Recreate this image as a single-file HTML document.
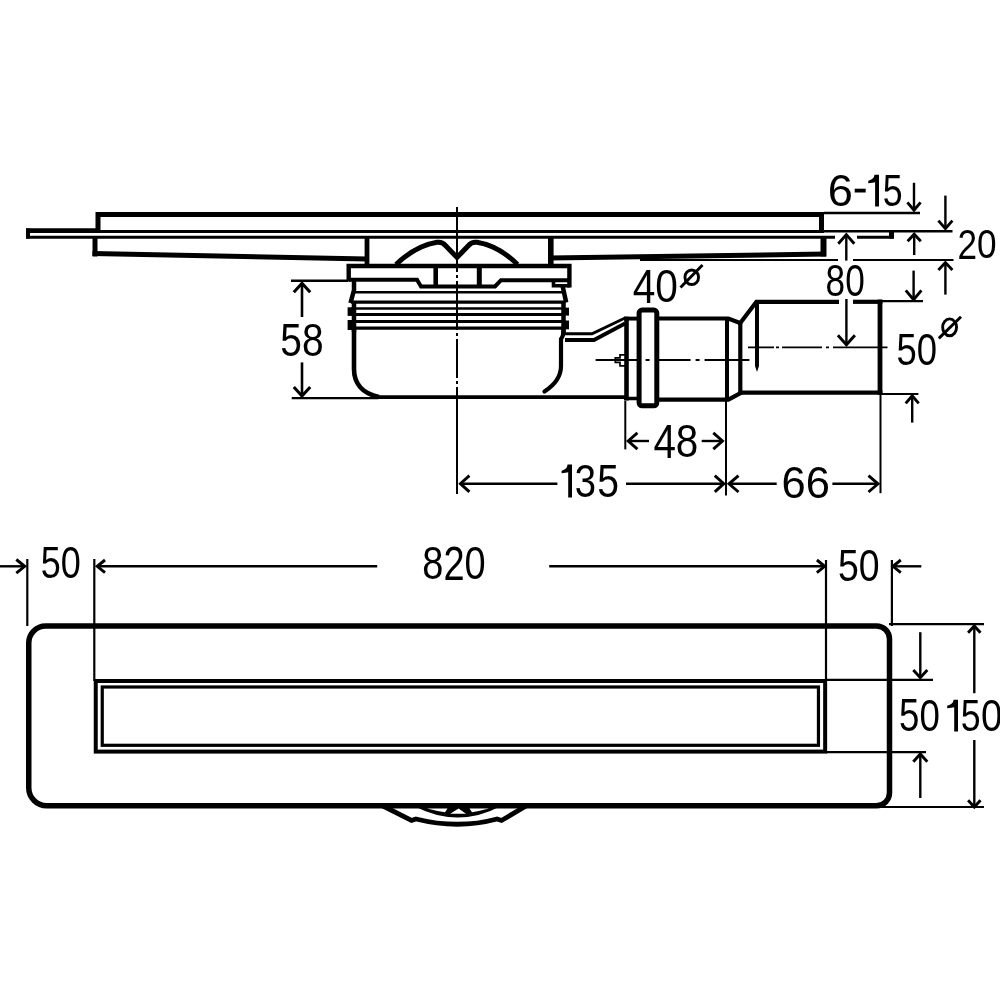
<!DOCTYPE html>
<html><head><meta charset="utf-8"><style>html,body{margin:0;padding:0;background:#fff;width:1000px;height:1000px;overflow:hidden}svg{display:block;will-change:transform}</style></head>
<body><svg width="1000" height="1000" viewBox="0 0 1000 1000">
<rect width="1000" height="1000" fill="#fff"/>
<g fill="none" stroke="#000">
<polyline points="98,231.5 98,214.5 821.5,214.5 821.5,231.5" stroke-width="5" stroke-linejoin="miter"/>
<line x1="96" y1="231.5" x2="824" y2="231.5" stroke-width="3"/>
<line x1="824" y1="231.2" x2="952.5" y2="231.2" stroke-width="2.5"/>
<line x1="26" y1="230.6" x2="98" y2="230.6" stroke-width="4.6"/>
<line x1="26" y1="237.2" x2="835" y2="237.2" stroke-width="3"/>
<line x1="857" y1="237.2" x2="894" y2="237.2" stroke-width="3"/>
<line x1="28" y1="228.5" x2="28" y2="238.5" stroke-width="4"/>
<line x1="891.5" y1="231" x2="891.5" y2="238.5" stroke-width="5"/>
<line x1="95" y1="236" x2="95" y2="256.5" stroke-width="5"/>
<polyline points="92.5,253.5 367,259" stroke-width="5" stroke-linejoin="miter"/>
<line x1="367" y1="237" x2="367" y2="266" stroke-width="4.8"/>
<line x1="550.8" y1="237" x2="550.8" y2="266" stroke-width="5.6"/>
<polyline points="550,258 826,254" stroke-width="5" stroke-linejoin="miter"/>
<line x1="823.5" y1="237" x2="823.5" y2="256.5" stroke-width="6"/>
<line x1="640" y1="260" x2="838" y2="260" stroke-width="2.2"/>
<line x1="853" y1="260" x2="953.5" y2="260" stroke-width="2.2"/>
<line x1="882" y1="301.2" x2="923" y2="301.2" stroke-width="2.2"/>
<line x1="824" y1="213" x2="920" y2="213" stroke-width="2.4"/>
<path d="M396,264.5 C409,252 424,244.5 437,242.3 Q442,241.5 445.5,245.5 L457,257.5 L468.5,245.5 Q472,241.5 477,242.3 C490,244.5 505,252 517.5,264.5" stroke-width="5" />
<polyline points="348.7,281.6 348.7,266 569.4,266 569.4,287.5" stroke-width="4.4" stroke-linejoin="miter"/>
<polyline points="348.7,279.8 417,279.8 421,286.5 495,286.5 501,280.2 569,280.2" stroke-width="4" stroke-linejoin="miter"/>
<line x1="435.7" y1="266" x2="435.7" y2="286" stroke-width="4.6"/>
<line x1="479.3" y1="266" x2="479.3" y2="286" stroke-width="5"/>
<polyline points="553.5,280 553.5,285.8 570,285.8" stroke-width="3.6" stroke-linejoin="miter"/>
<polyline points="354,281 354,290 350.5,303" stroke-width="4.5" stroke-linejoin="miter"/>
<line x1="354" y1="302" x2="354" y2="332" stroke-width="4.5"/>
<rect x="347.6" y="307.3" width="5" height="8.6" fill="#000" stroke="none"/>
<rect x="347.6" y="320" width="5" height="10" fill="#000" stroke="none"/>
<path d="M354,330 L354,369 C354,383 362,393.5 379,397" stroke-width="4.6" />
<polyline points="562.6,286 566.2,302.5" stroke-width="4.5" stroke-linejoin="miter"/>
<line x1="563.5" y1="301" x2="563.5" y2="335" stroke-width="4.5"/>
<rect x="564" y="307.6" width="5" height="8" fill="#000" stroke="none"/>
<rect x="564" y="320.5" width="5" height="8.8" fill="#000" stroke="none"/>
<path d="M563.5,330 Q563.5,336 561,339 L561,366 C561,376 556,384 544.5,391.5" stroke-width="4.2" stroke-linecap="round"/>
<line x1="355" y1="292.2" x2="563" y2="292.2" stroke-width="2.6"/>
<line x1="351" y1="302.2" x2="565" y2="302.2" stroke-width="3.2"/>
<line x1="351" y1="308.5" x2="565" y2="308.5" stroke-width="2.6"/>
<line x1="351" y1="314.5" x2="565" y2="314.5" stroke-width="2.8"/>
<line x1="351" y1="321.5" x2="565" y2="321.5" stroke-width="3"/>
<line x1="351" y1="328.2" x2="565" y2="328.2" stroke-width="3.2"/>
<line x1="291.7" y1="398.2" x2="378" y2="398.2" stroke-width="2.2"/>
<line x1="376" y1="397.1" x2="626" y2="397.1" stroke-width="3.6"/>
<line x1="291" y1="280.7" x2="348" y2="280.7" stroke-width="2.4"/>
<polyline points="564,333.8 592,333.8 625,318" stroke-width="3" stroke-linejoin="miter"/>
<polyline points="565,340 594,340 625,323.5" stroke-width="3.8" stroke-linejoin="miter"/>
<line x1="626.5" y1="316.7" x2="626.5" y2="400.5" stroke-width="4.6"/>
<line x1="624" y1="318.6" x2="640" y2="318.6" stroke-width="3.9"/>
<line x1="624" y1="398.5" x2="640" y2="398.5" stroke-width="3.5"/>
<rect x="639.1" y="310.1" width="17.7" height="95.7" rx="3" stroke-width="5"/>
<polyline points="657,318.5 728.4,318.5 740,323" stroke-width="4.2" stroke-linejoin="miter"/>
<polyline points="657,399.7 728.4,399.7 740,393.4" stroke-width="4.2" stroke-linejoin="miter"/>
<line x1="727" y1="318" x2="727" y2="400" stroke-width="4"/>
<line x1="740.3" y1="321" x2="740.3" y2="395" stroke-width="4.2"/>
<polyline points="740.3,323 756.4,301.8 839,301.8" stroke-width="4.2" stroke-linejoin="miter"/>
<line x1="853" y1="301.8" x2="882.4" y2="301.8" stroke-width="4.2"/>
<line x1="740" y1="392.6" x2="882.4" y2="392.6" stroke-width="4.2"/>
<line x1="880" y1="299.6" x2="880" y2="394.8" stroke-width="4.8"/>
<path d="M755,302 H759 V366 L757,372 L755,366 Z" fill="#000" stroke="none"/>
<line x1="882" y1="393.9" x2="918.4" y2="393.9" stroke-width="2"/>
<line x1="457" y1="207" x2="457" y2="272" stroke-width="2"/>
<line x1="457" y1="272" x2="457" y2="387" stroke-width="2" stroke-dasharray="0 3 3 3 49 3 3 3 39 3 3 3"/>
<line x1="457" y1="387" x2="457" y2="494" stroke-width="2"/>
<line x1="595.6" y1="360" x2="749.4" y2="360" stroke-width="1.8" stroke-dasharray="44 6 4 6 35 5 4 5 50"/>
<line x1="748" y1="347.4" x2="887.5" y2="347.4" stroke-width="1.8" stroke-dasharray="26 2 3 3 40 4 3 4 60"/>
<path d="M615.3,357.8 H620 V354.8 H625 M615.3,362.4 H620 V365.9 H625 M615.3,357 V363.2" stroke-width="1.7" />
<line x1="625.3" y1="401" x2="625.3" y2="449.4" stroke-width="2"/>
<line x1="726" y1="401" x2="726" y2="495.5" stroke-width="2"/>
<line x1="880.5" y1="394" x2="880.5" y2="493.2" stroke-width="2"/>
<line x1="302.0" y1="317.0" x2="302" y2="283.3" stroke-width="2.6"/>
<polyline points="310.2,292.3 302,283.3 293.8,292.3" stroke-width="3.1" stroke-linejoin="miter"/>
<line x1="302.0" y1="362.4" x2="302" y2="396" stroke-width="2.6"/>
<polyline points="293.8,387.0 302,396 310.2,387.0" stroke-width="3.1" stroke-linejoin="miter"/>
<line x1="914.0" y1="182.79999999999998" x2="914" y2="210.2" stroke-width="2.4"/>
<polyline points="907.4,202.39999999999998 914,210.2 920.6,202.39999999999998" stroke-width="2.9" stroke-linejoin="miter"/>
<line x1="914.2" y1="255.0" x2="914.2" y2="234.2" stroke-width="2.4"/>
<polyline points="920.8000000000001,241.2 914.2,234.2 907.6,241.2" stroke-width="2.9" stroke-linejoin="miter"/>
<line x1="945.4" y1="195.6" x2="945.4" y2="228.6" stroke-width="2.4"/>
<polyline points="938.4,220.6 945.4,228.6 952.4,220.6" stroke-width="2.9" stroke-linejoin="miter"/>
<line x1="945.4" y1="294.6" x2="945.4" y2="262.6" stroke-width="2.4"/>
<polyline points="952.4,270.1 945.4,262.6 938.4,270.1" stroke-width="2.9" stroke-linejoin="miter"/>
<line x1="846.3" y1="260.6" x2="846.3" y2="234.6" stroke-width="2.4"/>
<polyline points="854.3,243.79999999999998 846.3,234.6 838.3,243.79999999999998" stroke-width="2.9" stroke-linejoin="miter"/>
<line x1="913.6" y1="270.59999999999997" x2="913.6" y2="299.7" stroke-width="2.4"/>
<polyline points="905.8000000000001,290.4 913.6,299.7 921.4,290.4" stroke-width="2.9" stroke-linejoin="miter"/>
<line x1="846.4" y1="299.0" x2="846.4" y2="344.8" stroke-width="2.4"/>
<polyline points="837.9,335.3 846.4,344.8 854.9,335.3" stroke-width="2.9" stroke-linejoin="miter"/>
<line x1="912.2" y1="422.6" x2="912.2" y2="395.8" stroke-width="2.4"/>
<polyline points="918.7,403.40000000000003 912.2,395.8 905.7,403.40000000000003" stroke-width="2.9" stroke-linejoin="miter"/>
<line x1="649.0" y1="441.0" x2="628.2" y2="441" stroke-width="2.4"/>
<polyline points="637.4000000000001,432.8 628.2,441 637.4000000000001,449.2" stroke-width="2.9" stroke-linejoin="miter"/>
<line x1="701.7" y1="441.0" x2="722.5" y2="441" stroke-width="2.4"/>
<polyline points="713.3,449.2 722.5,441 713.3,432.8" stroke-width="2.9" stroke-linejoin="miter"/>
<line x1="557.4" y1="483.7" x2="460.4" y2="483.7" stroke-width="2.4"/>
<polyline points="469.4,475.59999999999997 460.4,483.7 469.4,491.8" stroke-width="2.9" stroke-linejoin="miter"/>
<line x1="626.0" y1="483.7" x2="723.8" y2="483.7" stroke-width="2.4"/>
<polyline points="714.8,491.8 723.8,483.7 714.8,475.59999999999997" stroke-width="2.9" stroke-linejoin="miter"/>
<line x1="776.7" y1="483.8" x2="729" y2="483.8" stroke-width="2.4"/>
<polyline points="738.5,475.6 729,483.8 738.5,492.0" stroke-width="2.9" stroke-linejoin="miter"/>
<line x1="832.4" y1="483.8" x2="878" y2="483.8" stroke-width="2.4"/>
<polyline points="868.5,492.0 878,483.8 868.5,475.6" stroke-width="2.9" stroke-linejoin="miter"/>
<path d="M45.75,626 H876.5 A13,13 0 0 1 889.5,639 V792.8 A13,13 0 0 1 876.5,805.8 H46.75 A18,18 0 0 1 28.75,787.8 V643 A17,17 0 0 1 45.75,626 Z" stroke-width="5.5" />
<rect x="95.75" y="681" width="729.4" height="70.6" stroke-width="4"/>
<rect x="102.25" y="687" width="716.2" height="58.3" stroke-width="3.2"/>
<line x1="27.3" y1="559" x2="27.3" y2="626" stroke-width="2.2"/>
<line x1="94.3" y1="559" x2="94.3" y2="681" stroke-width="2.2"/>
<line x1="826" y1="560" x2="826" y2="681" stroke-width="2.2"/>
<line x1="891.9" y1="560" x2="891.9" y2="626" stroke-width="2.2"/>
<line x1="889" y1="624.2" x2="984" y2="624.2" stroke-width="2.2"/>
<line x1="880" y1="807" x2="984" y2="807" stroke-width="2.2"/>
<line x1="826" y1="679.8" x2="933" y2="679.8" stroke-width="2.2"/>
<line x1="826" y1="752.2" x2="926" y2="752.2" stroke-width="2.2"/>
<line x1="0.0" y1="566.3" x2="24.7" y2="566.3" stroke-width="2.4"/>
<polyline points="16.299999999999997,573.0999999999999 24.7,566.3 16.299999999999997,559.5" stroke-width="2.9" stroke-linejoin="miter"/>
<line x1="377.2" y1="566.3" x2="97.2" y2="566.3" stroke-width="2.4"/>
<polyline points="105.0,560.0 97.2,566.3 105.0,572.5999999999999" stroke-width="2.9" stroke-linejoin="miter"/>
<line x1="549.2" y1="566.3" x2="824.7" y2="566.3" stroke-width="2.4"/>
<polyline points="816.9000000000001,572.5999999999999 824.7,566.3 816.9000000000001,560.0" stroke-width="2.9" stroke-linejoin="miter"/>
<line x1="921.3" y1="566.3" x2="893" y2="566.3" stroke-width="2.4"/>
<polyline points="900.8,560.0 893,566.3 900.8,572.5999999999999" stroke-width="2.9" stroke-linejoin="miter"/>
<line x1="920.3" y1="632.2" x2="920.3" y2="677.7" stroke-width="2.4"/>
<polyline points="913.3,670.0 920.3,677.7 927.3,670.0" stroke-width="2.9" stroke-linejoin="miter"/>
<line x1="920.3" y1="798" x2="920.3" y2="754" stroke-width="2.4"/>
<polyline points="927.3,761.7 920.3,754 913.3,761.7" stroke-width="2.9" stroke-linejoin="miter"/>
<line x1="974.3" y1="693.1999999999999" x2="974.3" y2="625.9" stroke-width="2.4"/>
<polyline points="980.5,632.6999999999999 974.3,625.9 968.0999999999999,632.6999999999999" stroke-width="2.9" stroke-linejoin="miter"/>
<line x1="974.3" y1="740" x2="974.3" y2="807" stroke-width="2.4"/>
<polyline points="968.0999999999999,800.2 974.3,807 980.5,800.2" stroke-width="2.9" stroke-linejoin="miter"/>
<path d="M414,806 Q458,829 501,806 Z" fill="#000" stroke="none"/>
<path d="M427,808.6 L447.5,808.6 L445,812.3 Q436,811 427,808.6 Z" fill="#fff" stroke="none"/>
<path d="M450.2,813.8 L466,813.8 L458.6,808.4 Z" fill="#fff" stroke="none"/>
<path d="M469.5,808.6 L489,808.6 Q480,811 472,812.3 Z" fill="#fff" stroke="none"/>
<path d="M383,806 L411.5,820.5 L416,819 Q458,829.5 497,819 L501.5,820.5 L526,806" stroke-width="4.8" />
</g>
<g fill="#000" font-family="Liberation Sans" font-size="100">
<text transform="matrix(0.4522 0 0 0.4451 782.52 116.94)" x="100" y="200">6</text>
<path d="M879,174.8 L879,206.4 L875.10,206.4 L875.10,182.23 Q873.10,182.86 868.3,183.17 L868.3,180.65 Q874.10,179.54 874.50,174.8 Z" stroke="none"/>
<text transform="matrix(0.3574 0 0 0.4514 846.93 115.66)" x="100" y="200">5</text>
<rect x="854.7" y="188.7" width="11" height="3.8"/>
<text transform="matrix(0.3518 0 0 0.4200 922.26 174.80)" x="100" y="200">2</text>
<text transform="matrix(0.3518 0 0 0.4141 941.83 175.57)" x="100" y="200">0</text>
<text transform="matrix(0.3522 0 0 0.4423 790.37 207.11)" x="100" y="200">8</text>
<text transform="matrix(0.3522 0 0 0.4423 809.96 207.11)" x="100" y="200">0</text>
<text transform="matrix(0.3888 0 0 0.4700 241.46 262.33)" x="100" y="200">5</text>
<text transform="matrix(0.3888 0 0 0.4634 263.09 263.66)" x="100" y="200">8</text>
<text transform="matrix(0.4071 0 0 0.4853 591.97 205.93)" x="100" y="200">4</text>
<text transform="matrix(0.4071 0 0 0.4648 614.62 209.08)" x="100" y="200">0</text>
<text transform="matrix(0.3648 0 0 0.4457 860.06 275.81)" x="100" y="200">5</text>
<text transform="matrix(0.3648 0 0 0.4394 880.35 277.07)" x="100" y="200">0</text>
<text transform="matrix(0.4043 0 0 0.4882 612.96 360.04)" x="100" y="200">4</text>
<text transform="matrix(0.4043 0 0 0.4676 635.45 363.21)" x="100" y="200">8</text>
<path d="M572,464.6 L572,497.4 L568.20,497.4 L568.20,472.31 Q566.20,472.96 561.6,473.29 L561.6,470.67 Q567.20,469.52 567.60,464.6 Z" stroke="none"/>
<text transform="matrix(0.3830 0 0 0.4620 536.57 404.54)" x="100" y="200">3</text>
<text transform="matrix(0.3915 0 0 0.4686 558.09 403.22)" x="100" y="200">5</text>
<text transform="matrix(0.4350 0 0 0.4451 738.13 409.14)" x="100" y="200">6</text>
<text transform="matrix(0.4350 0 0 0.4451 762.32 409.14)" x="100" y="200">6</text>
<text transform="matrix(0.3600 0 0 0.4457 4.86 488.81)" x="100" y="200">5</text>
<text transform="matrix(0.3600 0 0 0.4394 24.88 490.07)" x="100" y="200">0</text>
<text transform="matrix(0.3799 0 0 0.4648 384.29 486.18)" x="100" y="200">8</text>
<text transform="matrix(0.3799 0 0 0.4714 405.42 485.31)" x="100" y="200">2</text>
<text transform="matrix(0.3799 0 0 0.4648 426.55 486.18)" x="100" y="200">0</text>
<text transform="matrix(0.3744 0 0 0.4500 800.46 490.55)" x="100" y="200">5</text>
<text transform="matrix(0.3744 0 0 0.4437 821.28 491.82)" x="100" y="200">0</text>
<text transform="matrix(0.3667 0 0 0.4571 862.36 639.61)" x="100" y="200">5</text>
<text transform="matrix(0.3667 0 0 0.4507 882.76 640.91)" x="100" y="200">0</text>
<path d="M958,699.8 L958,731.5 L954.20,731.5 L954.20,707.25 Q952.20,707.88 947.2,708.20 L947.2,705.66 Q953.20,704.55 953.60,699.8 Z" stroke="none"/>
<text transform="matrix(0.3574 0 0 0.4529 925.03 640.48)" x="100" y="200">5</text>
<text transform="matrix(0.3833 0 0 0.4465 942.73 641.76)" x="100" y="200">0</text>
</g>
<g fill="none" stroke="#000">
<ellipse cx="691.75" cy="277.25" rx="6.8" ry="7.3" stroke-width="2.9"/>
<line x1="680.5" y1="287.5" x2="702.5" y2="265" stroke-width="2.9"/>
<ellipse cx="949.6" cy="327.29999999999995" rx="6.949999999999977" ry="8.450000000000006" stroke-width="2.9"/>
<line x1="938.8" y1="338.4" x2="961" y2="316.8" stroke-width="2.9"/>
</g>
</svg></body></html>
